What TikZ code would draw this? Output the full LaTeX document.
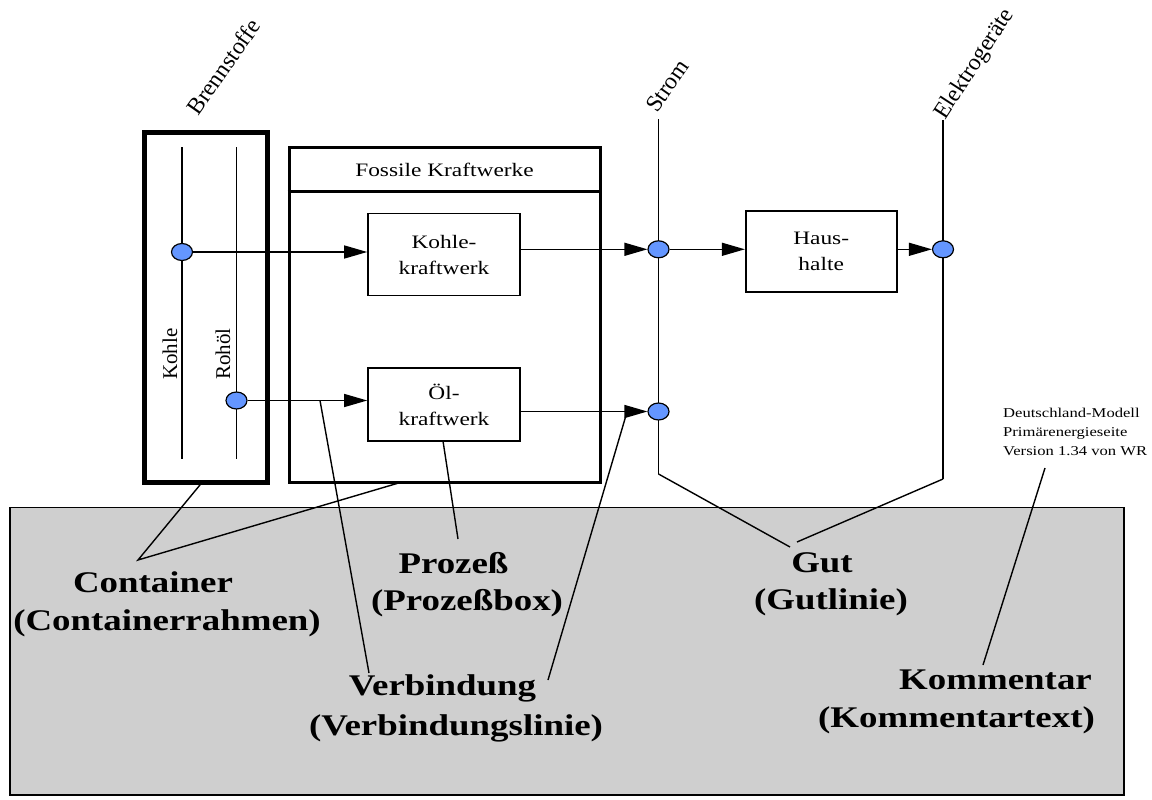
\documentclass[tikz,border=0pt]{standalone}
\usepackage{fontspec}
\setmainfont{Liberation Serif}[FakeStretch=1.23]
\newfontfamily\uprightserif{Liberation Serif}
\usetikzlibrary{arrows.meta,shapes.geometric}
\definecolor{bgfill}{RGB}{207,207,207}
\definecolor{dotfill}{RGB}{100,150,255}

\begin{document}
\begin{tikzpicture}[x=1pt,y=-1pt,
  thinline/.style={line width=1.4pt},
  flow/.style={thinline,-{Triangle[length=23pt,width=13pt]}},
  procbox/.style={draw,line width=1.6pt,fill=white,align=center,
    font=\fontsize{19}{26}\selectfont,inner sep=0pt},
  gutdot/.style={ellipse,draw,line width=1.2pt,fill=dotfill,
    minimum width=21pt,minimum height=17pt,inner sep=0pt},
  sidelabel/.style={font=\uprightserif\fontsize{21}{24}\selectfont,inner sep=0pt},
  slantlabel/.style={font=\uprightserif\fontsize{23.5}{26}\selectfont,inner sep=0pt},
  notelabel/.style={font=\fontsize{30}{40}\selectfont\bfseries,inner sep=0pt}]
\useasboundingbox (0,0) rectangle (1152,800);

% legend panel
\node[draw,line width=1.3pt,fill=bgfill,minimum width=1114pt,minimum height=287.5pt,
  inner sep=0pt] (panel) at (567,651.25) {};

% container "Brennstoffe"
\node[draw,line width=5pt,minimum width=123pt,minimum height=350pt,inner sep=0pt]
  (brenn) at (206,307.5) {};
\node[slantlabel,rotate=55,anchor=base west] (brennlbl) at (198,117) {Brennstoffe};

% goods lines inside the container
\coordinate (kohletop) at (182,147);
\coordinate (kohlebot) at (182,459);
\coordinate (roheltop) at (236.5,147);
\coordinate (rohelbot) at (236.5,459);
\draw[thinline] (kohletop) -- (kohlebot);
\draw[thinline] (roheltop) -- (rohelbot);
\node[sidelabel,rotate=90,anchor=base west] (kohlelbl) at (177,380) {Kohle};
\node[sidelabel,rotate=90,anchor=base west] (rohellbl) at (230,380) {Rohöl};

% container "Fossile Kraftwerke"
\node[draw,line width=3pt,minimum width=311pt,minimum height=335pt,inner sep=0pt]
  (fossil) at (444.5,314.5) {};
\draw[line width=3pt] ([yshift=-46pt]fossil.north west) -- ([yshift=-46pt]fossil.north east);
\node[font=\fontsize{19}{26}\selectfont,inner sep=0pt] (fossillbl) at (444.5,170) {Fossile Kraftwerke};

% processes
\node[procbox,minimum width=152pt,minimum height=82pt] (kohlekw) at (444,254.5) {Kohle-\\kraftwerk};
\node[procbox,minimum width=152pt,minimum height=73pt] (oelkw) at (444,404.5) {Öl-\\kraftwerk};
\node[procbox,minimum width=151pt,minimum height=81.5pt] (haus) at (821.2,251.5) {Haus-\\halte};

% goods lines "Strom" and "Elektrogeräte"
\coordinate (stromtop) at (658.5,119);
\coordinate (strombot) at (658.5,474);
\coordinate (elektop) at (943,120);
\coordinate (elekbot) at (943,479);
\draw[thinline] (stromtop) -- (strombot);
\draw[thinline] (elektop) -- (elekbot);
\node[slantlabel,rotate=55,anchor=base west] (stromlbl) at (657,114) {Strom};
\node[slantlabel,rotate=57,anchor=base west] (eleklbl) at (945,121) {Elektrogeräte};

% connection points
\node[gutdot] (pkohle) at (182,252) {};
\node[gutdot] (prohel) at (236.5,400.5) {};
\node[gutdot] (pstrom1) at (658.5,249.3) {};
\node[gutdot] (pstrom2) at (658.5,411.5) {};
\node[gutdot] (pelek) at (943,249.3) {};

% connections
\draw[flow] (pkohle) -- (pkohle -| kohlekw.west);
\draw[flow] (prohel) -- (prohel -| oelkw.west);
\draw[flow] (kohlekw.east |- pstrom1) -- (pstrom1.west);
\draw[flow] (oelkw.east |- pstrom2) -- (pstrom2.west);
\draw[flow] (pstrom1) -- (pstrom1 -| haus.west);
\draw[flow] (haus.east |- pelek) -- (pelek.west);

% comment
\node[anchor=north west,align=left,font=\fontsize{13.5}{19}\selectfont,inner sep=0pt]
  (note) at (1003,408) {Deutschland-Modell\\Primärenergieseite\\Version 1.34 von WR};

% legend labels
\node[notelabel] (lcont1) at (153,582) {Container};
\node[notelabel] (lcont2) at (167,623) {(Containerrahmen)};
\node[notelabel] (lproc1) at (453.5,563) {Prozeß};
\node[notelabel] (lproc2) at (467,603) {(Prozeßbox)};
\node[notelabel] (lverb1) at (442.5,688) {Verbindung};
\node[notelabel] (lverb2) at (456,728) {(Verbindungslinie)};
\node[notelabel] (lgut1) at (822,563) {Gut};
\node[notelabel] (lgut2) at (831,602) {(Gutlinie)};
\node[notelabel] (lkomm1) at (995.5,680) {Kommentar};
\node[notelabel] (lkomm2) at (956.5,720) {(Kommentartext)};

% callout lines
\coordinate (contapex) at (138,560);
\coordinate (contA) at (202,482.5);
\coordinate (contB) at (402,482);
\draw[thinline] (contA) -- (contapex) -- (contB);

\coordinate (procA) at (443,441);
\coordinate (procB) at (458,539);
\draw[thinline] (procA) -- (procB);

\coordinate (verbA) at (320,400.5);
\coordinate (verbB) at (369,673);
\coordinate (verbC) at (627,412);
\coordinate (verbD) at (548,680);
\draw[thinline] (verbA) -- (verbB);
\draw[thinline] (verbC) -- (verbD);

\coordinate (gutA) at (790,547);
\coordinate (gutB) at (797,542);
\draw[thinline] (strombot) -- (gutA);
\draw[thinline] (elekbot) -- (gutB);

\coordinate (kommA) at (1045,468);
\coordinate (kommB) at (983,665);
\draw[thinline] (kommA) -- (kommB);
\end{tikzpicture}
\end{document}
